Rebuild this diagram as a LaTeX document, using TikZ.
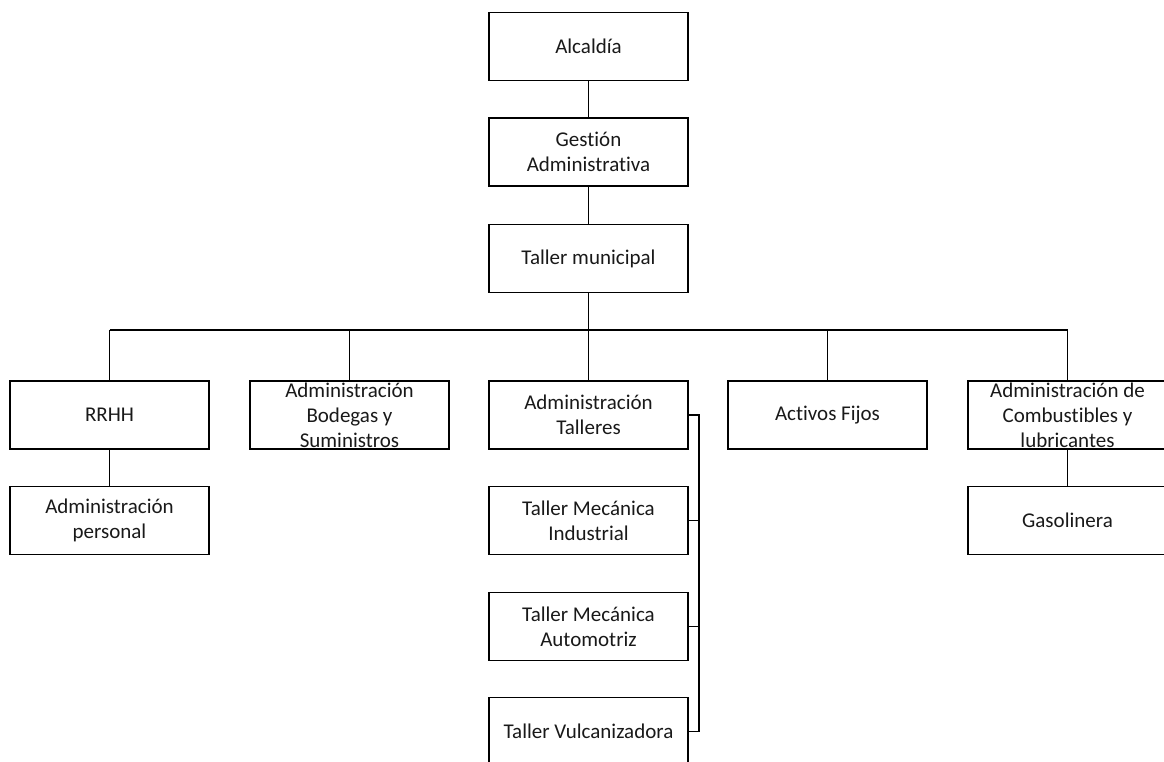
\documentclass[tikz,border=0pt]{standalone}
\usepackage{fontspec}
\setmainfont[Ligatures=NoCommon]{Carlito}
\begin{document}
\begin{tikzpicture}[x=1pt,y=-1pt,
  unit/.style={draw=black, line width=1.1pt, minimum width=199pt, minimum height=68pt, inner sep=0pt},
  caption/.style={align=center, inner sep=0pt, text=black!90, font=\fontsize{21}{24.8}\selectfont},
  link/.style={draw=black, line width=1.1pt}]
\useasboundingbox (0,0) rectangle (1164,762);
\clip (0,0) rectangle (1164,762);

% top chain
\node[unit] (alc) at (588.5,46.5) {};
\node[caption] (alct) at (alc) {Alcaldía};
\node[unit] (ges) at (588.5,152) {};
\node[caption] (gest) at (ges) {Gestión\\Administrativa};
\node[unit] (tm) at (588.5,258.5) {};
\node[caption] (tmt) at (tm) {Taller municipal};

% second level
\node[unit] (rrhh) at (109.5,415) {};
\node[caption] (rrhht) at (rrhh) {RRHH};
\node[unit] (bod) at (349.5,415) {};
\node[caption] (bodt) at (bod) {Administración\\Bodegas y\\Suministros};
\node[unit] (tal) at (588.5,415) {};
\node[caption] (talt) at (tal) {Administración\\Talleres};
\node[unit] (act) at (827.5,415) {};
\node[caption] (actt) at (act) {Activos Fijos};
\node[unit] (comb) at (1067.5,415) {};
\node[caption] (combt) at (comb) {Administración de\\Combustibles y\\lubricantes};

% third level
\node[unit] (per) at (109.5,520.5) {};
\node[caption] (pert) at (per) {Administración\\personal};
\node[unit] (ind) at (588.5,520.5) {};
\node[caption] (indt) at (ind) {Taller Mecánica\\Industrial};
\node[unit] (aut) at (588.5,626.5) {};
\node[caption] (autt) at (aut) {Taller Mecánica\\Automotriz};
\node[unit] (vul) at (588.5,731.5) {};
\node[caption] (vult) at (vul) {Taller Vulcanizadora};
\node[unit] (gas) at (1067.5,520.5) {};
\node[caption] (gast) at (gas) {Gasolinera};

% connectors
\coordinate (bus) at (588.5,330);
\coordinate (brx) at (699,0);
\draw[link] (alc.south) -- (ges.north);
\draw[link] (ges.south) -- (tm.north);
\draw[link] (tm.south) -- (bus);
\draw[link] (bus -| rrhh) -- (bus -| comb);
\foreach \n in {rrhh,bod,tal,act,comb}
  \draw[link] (bus -| \n) -- (\n.north);
\draw[link] (rrhh.south) -- (per.north);
\draw[link] (comb.south) -- (gas.north);
\draw[link] (tal.east) -- (tal.east -| brx) -- (vul.east -| brx) -- (vul.east);
\draw[link] (ind.east) -- (ind.east -| brx);
\draw[link] (aut.east) -- (aut.east -| brx);
\end{tikzpicture}
\end{document}
